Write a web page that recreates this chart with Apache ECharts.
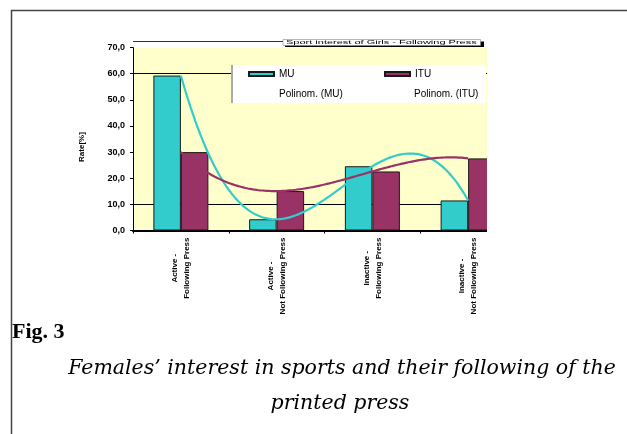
<!DOCTYPE html>
<html>
<head>
<meta charset="utf-8">
<script src="https://cdn.jsdelivr.net/npm/echarts@6/dist/echarts.min.js"></script>
<style>
  html, body { margin: 0; padding: 0; background: #fff; }
  #chart { width: 627px; height: 434px; }
</style>
</head>
<body>
<div id="chart"></div>
<script>
// Categories of respondents (activity level x press following)
const categories = [
  'Active -\nFollowing Press',
  'Active -\nNot Following Press',
  'Inactive -\nFollowing Press',
  'Inactive -\nNot Following Press'
];
// Share of respondents per university, in percent
const muValues = [59.3, 4.3, 24.6, 11.5];
const ituValues = [30.0, 15.1, 22.6, 27.6];
// Value axis ticks
const yMin = 0;
const yMax = 70;
const yStep = 10;
// Texts
const chartTitle = 'Sport interest of Girls - Following Press';
const figLabel = 'Fig. 3';
const captionLines = [
  'Females\u2019 interest in sports and their following of the',
  'printed press'
];

const MU_COLOR = '#33CCCC';
const ITU_COLOR = '#993366';

// Least-squares polynomial trend (order 3), the "Polinom." trendline
function polyFit(xs, ys, order) {
  const n = order + 1;
  const A = [];
  for (let r = 0; r < n; r++) {
    const row = [];
    for (let c = 0; c < n; c++) {
      row.push(xs.reduce((s, x) => s + Math.pow(x, r + c), 0));
    }
    row.push(xs.reduce((s, x, i) => s + ys[i] * Math.pow(x, r), 0));
    A.push(row);
  }
  for (let i = 0; i < n; i++) {
    let p = i;
    for (let k = i + 1; k < n; k++) if (Math.abs(A[k][i]) > Math.abs(A[p][i])) p = k;
    [A[i], A[p]] = [A[p], A[i]];
    for (let k = i + 1; k < n; k++) {
      const f = A[k][i] / A[i][i];
      for (let c = i; c <= n; c++) A[k][c] -= f * A[i][c];
    }
  }
  const coef = new Array(n).fill(0);
  for (let i = n - 1; i >= 0; i--) {
    let s = A[i][n];
    for (let c = i + 1; c < n; c++) s -= A[i][c] * coef[c];
    coef[i] = s / A[i][i];
  }
  return x => coef.reduce((s, c, i) => s + c * Math.pow(x, i), 0);
}

function trendPoints(values) {
  const xs = values.map((_, i) => i + 1);
  const f = polyFit(xs, values, 3);
  const pts = [];
  for (let t = 1; t <= values.length + 1e-9; t += 0.025) pts.push([t, f(t)]);
  return pts;
}

const labelFont = 'Arial, "Liberation Sans", sans-serif';

const chart = echarts.init(document.getElementById('chart'), null, { renderer: 'canvas' });

chart.setOption({
  animation: false,
  backgroundColor: '#fff',
  grid: {
    left: 133, right: 111, top: 47.6, bottom: 203.5,
    show: true, backgroundColor: '#FFFFCC', borderWidth: 0
  },
  legend: {
    left: 248, top: 68, padding: 0,
    itemWidth: 25, itemHeight: 4, itemGap: 8,
    icon: 'rect', z: 5,
    textStyle: { fontSize: 10, fontFamily: labelFont, color: '#000', width: 97, lineHeight: 12 },
    data: ['MU', 'ITU', '', { name: 'Polinom. (MU)', icon: 'none' }, { name: 'Polinom. (ITU)', icon: 'none' }]
  },
  xAxis: [
    {
      type: 'category',
      data: categories,
      axisLine: { lineStyle: { color: '#000', width: 2 } },
      axisTick: { show: true, length: 3, lineStyle: { color: '#000' } },
      axisLabel: {
        interval: 0, rotate: 90, margin: 7,
        formatter: v => v.split('\n').map(s => '{c|' + s + '}').join('\n'),
        rich: { c: { align: 'center', fontSize: 8, fontWeight: 'bold', fontFamily: labelFont, color: '#000', lineHeight: 12 } }
      },
      splitLine: { show: false }
    },
    { type: 'value', min: 0.5, max: 4.5, show: false }
  ],
  yAxis: {
    type: 'value', min: yMin, max: yMax, interval: yStep,
    name: 'Rate[%]', nameLocation: 'middle', nameGap: 47,
    nameTextStyle: { fontSize: 8, fontWeight: 'bold', fontFamily: labelFont, color: '#000', padding: [0, 16, 0, 0] },
    axisLine: { show: true, lineStyle: { color: '#000', width: 1 } },
    axisTick: { show: true, length: 3, lineStyle: { color: '#000' } },
    axisLabel: {
      fontSize: 9, fontWeight: 'bold', fontFamily: labelFont, color: '#000', margin: 8,
      formatter: v => v.toFixed(1).replace('.', ',')
    },
    splitLine: {
      show: true,
      lineStyle: {
        width: 1,
        color: ['rgba(0,0,0,0)', '#000', 'rgba(0,0,0,0)', 'rgba(0,0,0,0)',
                'rgba(0,0,0,0)', 'rgba(0,0,0,0)', '#000', 'rgba(0,0,0,0)']
      }
    }
  },
  series: [
    {
      name: 'MU', type: 'bar', data: muValues, barWidth: 27.5, barGap: '0%', z: 2,
      itemStyle: { color: MU_COLOR, borderColor: '#1a1a1a', borderWidth: 1 }
    },
    {
      name: 'ITU', type: 'bar', data: ituValues, barWidth: 27.5, barGap: '0%', z: 2,
      itemStyle: { color: ITU_COLOR, borderColor: '#1a1a1a', borderWidth: 1 }
    },
    {
      name: 'Polinom. (MU)', type: 'line', xAxisIndex: 1, data: trendPoints(muValues),
      symbol: 'none', silent: true, z: 3,
      lineStyle: { color: MU_COLOR, width: 2.2 }, itemStyle: { color: MU_COLOR }
    },
    {
      name: 'Polinom. (ITU)', type: 'line', xAxisIndex: 1, data: trendPoints(ituValues),
      symbol: 'none', silent: true, z: 3,
      lineStyle: { color: ITU_COLOR, width: 2.2 }, itemStyle: { color: ITU_COLOR }
    }
  ],
  graphic: [
    // page frame
    { type: 'line', z: 20, shape: { x1: 11.5, y1: 10, x2: 11.5, y2: 434 }, style: { stroke: '#444', lineWidth: 1.5 } },
    { type: 'line', z: 20, shape: { x1: 11, y1: 10.5, x2: 627, y2: 10.5 }, style: { stroke: '#444', lineWidth: 1.5 } },
    // chart area edge above the plot
    { type: 'line', z: 3, shape: { x1: 133, y1: 41.5, x2: 283, y2: 41.5 }, style: { stroke: '#333', lineWidth: 1 } },
    // legend panel
    { type: 'rect', z: 3, shape: { x: 232, y: 65, width: 254, height: 38 }, style: { fill: '#fff' } },
    { type: 'line', z: 3, shape: { x1: 232, y1: 65, x2: 232, y2: 103 }, style: { stroke: '#aaa', lineWidth: 2 } },
    // right-hand crop of the chart picture
    { type: 'rect', z: 10, shape: { x: 487, y: 30, width: 140, height: 280 }, style: { fill: '#fff' } },
    // chart title box with drop shadow
    { type: 'rect', z: 11, shape: { x: 285, y: 41.5, width: 199, height: 5.5 }, style: { fill: '#000' } },
    { type: 'rect', z: 12, shape: { x: 283, y: 39.5, width: 197.5, height: 6 }, style: { fill: '#fff', stroke: '#888', lineWidth: 0.6 } },
    {
      type: 'text', z: 13, x: 286, y: 42.6, scaleY: 0.5,
      style: { text: chartTitle, x: 0, y: 0, fontSize: 11, fontFamily: labelFont, fill: '#000', verticalAlign: 'middle', align: 'left' }
    },
    // figure caption
    {
      type: 'text', z: 20,
      style: { text: figLabel, x: 12, y: 332, font: 'bold 22px "Liberation Serif", serif', fill: '#000', verticalAlign: 'middle', align: 'left' }
    },
    {
      type: 'text', z: 20,
      style: { text: captionLines[0], x: 342, y: 369, font: 'italic 20.5px "DejaVu Serif", serif', fill: '#000', verticalAlign: 'middle', align: 'center' }
    },
    {
      type: 'text', z: 20,
      style: { text: captionLines[1], x: 340, y: 404, font: 'italic 20.5px "DejaVu Serif", serif', fill: '#000', verticalAlign: 'middle', align: 'center' }
    }
  ]
});
</script>
</body>
</html>
